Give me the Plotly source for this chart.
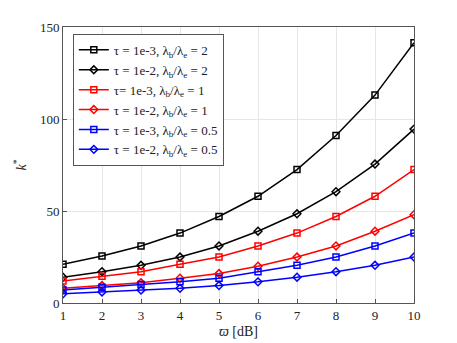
import plotly.graph_objects as go

x_db = list(range(1, 11))

k_t3_r2 = [21, 25.5, 31, 38, 47, 58, 72.5, 91, 113, 141.5]
k_t2_r2 = [14, 17, 20.5, 25, 31, 39, 48.5, 60.5, 75.5, 94.5]
k_t3_r1 = [12, 14.5, 17, 21, 25, 31, 38, 47, 58, 72.5]
k_t2_r1 = [8, 9.5, 11, 13.5, 16, 20, 25, 31, 39, 48]
k_t3_r05 = [7, 8.5, 10, 11.5, 13.5, 17, 20.5, 25, 31, 38]
k_t2_r05 = [5, 6, 7, 8, 9.5, 11.5, 14, 17, 20.5, 25]

series = [
    ("τ = 1e-3, λ<sub>b</sub>/λ<sub>e</sub> = 2", k_t3_r2, "black", "square-open"),
    ("τ = 1e-2, λ<sub>b</sub>/λ<sub>e</sub> = 2", k_t2_r2, "black", "diamond-open"),
    ("τ= 1e-3, λ<sub>b</sub>/λ<sub>e</sub> = 1", k_t3_r1, "red", "square-open"),
    ("τ = 1e-2, λ<sub>b</sub>/λ<sub>e</sub> = 1", k_t2_r1, "red", "diamond-open"),
    ("τ = 1e-3, λ<sub>b</sub>/λ<sub>e</sub> = 0.5", k_t3_r05, "blue", "square-open"),
    ("τ = 1e-2, λ<sub>b</sub>/λ<sub>e</sub> = 0.5", k_t2_r05, "blue", "diamond-open"),
]

fig = go.Figure()
for name, y, color, symbol in series:
    fig.add_trace(go.Scatter(
        x=x_db, y=y, name=name, mode='lines+markers',
        line=dict(color=color, width=1.5),
        marker=dict(symbol=symbol, size=6, color=color, line=dict(width=1.5, color=color))
    ))

axis_style = dict(
    showline=True, linecolor='#555', linewidth=1, mirror=True,
    showgrid=True, gridcolor='#e6e6e6', gridwidth=1,
    ticks='inside', ticklen=4, tickcolor='#555',
    zeroline=False, tickfont=dict(size=13, color='#222')
)

# page body has an 8px margin, so shift the margins to land the plot area
fig.update_layout(
    width=457, height=343,
    margin=dict(l=52, r=51, t=17, b=48),
    plot_bgcolor='white', paper_bgcolor='white',
    font=dict(family='Liberation Serif', size=13, color='#222'),
    showlegend=True,
    legend=dict(
        x=0.028, y=0.975, xanchor='left', yanchor='top',
        bgcolor='white', bordercolor='#555', borderwidth=1,
        font=dict(size=13), tracegroupgap=0, itemwidth=30
    ),
    xaxis=dict(axis_style, range=[1, 10], dtick=1,
               title=dict(text='<i>ϖ</i> [dB]', standoff=4, font=dict(size=14))),
    yaxis=dict(axis_style, range=[0, 150], dtick=50,
               title=dict(text='<i>k</i><sup>*</sup>', standoff=10, font=dict(size=14))),
)

fig.write_html("out.html")
